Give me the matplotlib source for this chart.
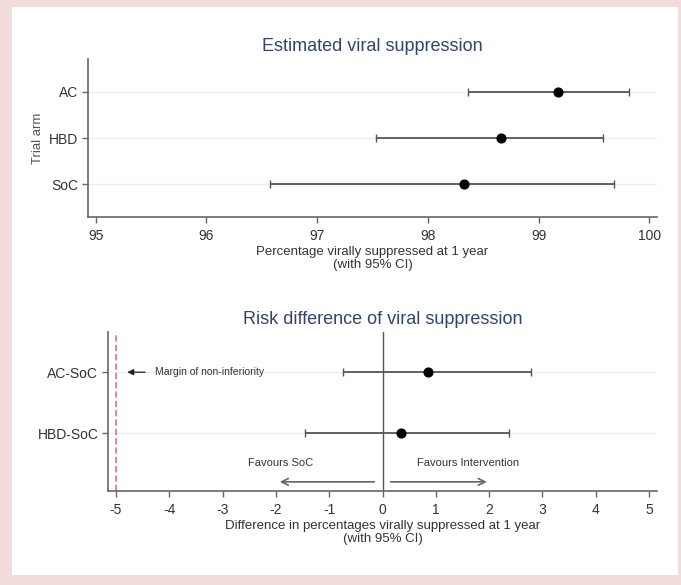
import matplotlib
matplotlib.use("Agg")
import matplotlib.pyplot as plt
from matplotlib.patches import Rectangle

plt.rcParams['font.family'] = ['Liberation Sans Narrow', 'Liberation Sans', 'DejaVu Sans']
plt.rcParams['axes.unicode_minus'] = False

# Estimated viral suppression by trial arm (%, with 95% CI)
arms = ['AC', 'HBD', 'SoC']
est = [99.18, 98.66, 98.33]
est_lo = [98.36, 97.53, 96.57]
est_hi = [99.82, 99.58, 99.68]
top_ticks = [95, 96, 97, 98, 99, 100]

# Risk difference vs SoC (percentage points, with 95% CI)
comparisons = ['AC-SoC', 'HBD-SoC']
diff = [0.85, 0.34]
diff_lo = [-0.74, -1.45]
diff_hi = [2.78, 2.38]
bottom_ticks = [-5, -4, -3, -2, -1, 0, 1, 2, 3, 4, 5]
margin = -5

spine_col = '#666666'
text_col = '#333333'
title_col = '#34436e'
grid_col = '#e8f1f1'
bar_col = '#555555'

fig = plt.figure(figsize=(6.81, 5.85), dpi=100, facecolor='#f1dbdb')
fig.patches.append(Rectangle((12 / 681, 1 - 575 / 585), 666 / 681, 568 / 585,
                             transform=fig.transFigure, facecolor='white',
                             edgecolor='none', zorder=-10))


def style(ax):
    ax.patch.set_alpha(0)
    for s in ['top', 'right']:
        ax.spines[s].set_visible(False)
    for s in ['left', 'bottom']:
        ax.spines[s].set_color(spine_col)
        ax.spines[s].set_linewidth(1.2)
    ax.tick_params(length=4, width=1, color=spine_col, labelcolor=text_col, labelsize=10, pad=3)
    ax.tick_params(axis='x', pad=4.5)
    ax.grid(axis='y', color=grid_col, lw=1)
    ax.set_axisbelow(True)


# ---- top panel
ax1 = fig.add_axes([88 / 681, 1 - 217 / 585, 569 / 681, 158 / 585])
ypos = [3, 2, 1]
ax1.errorbar(est, ypos,
             xerr=[[e - l for e, l in zip(est, est_lo)], [h - e for e, h in zip(est, est_hi)]],
             fmt='o', color='black', ms=6.3, ecolor=bar_col, elinewidth=1.3, capsize=3, capthick=1)
ax1.set_xlim(94.93, 100.07)
ax1.set_ylim(0.29, 3.71)
ax1.set_xticks(top_ticks)
ax1.set_yticks(ypos)
ax1.set_yticklabels(arms)
style(ax1)
ax1.set_title('Estimated viral suppression', color=title_col, fontsize=13, pad=6)
ax1.set_xlabel('Percentage virally suppressed at 1 year\n(with 95% CI)', fontsize=9.5,
               color=text_col, labelpad=2, linespacing=1.2)
ax1.set_ylabel('Trial arm', fontsize=9.5, color='#555555')
ax1.yaxis.set_label_coords(-0.077, 0.5)

# ---- bottom panel
ax2 = fig.add_axes([108 / 681, 1 - 491 / 585, 549 / 681, 159 / 585])
ypos2 = [2, 1]
ax2.errorbar(diff, ypos2,
             xerr=[[d - l for d, l in zip(diff, diff_lo)], [h - d for d, h in zip(diff, diff_hi)]],
             fmt='o', color='black', ms=6.3, ecolor=bar_col, elinewidth=1.3, capsize=3, capthick=1,
             zorder=3)
ax2.axvline(0, color=bar_col, lw=1)
ax2.axvline(margin, color='#e8839b', lw=1.4, ls=(0, (3.2, 1.6)))
ax2.set_xlim(-5.15, 5.15)
ax2.set_ylim(0.05, 2.66)
ax2.set_xticks(bottom_ticks)
ax2.set_yticks(ypos2)
ax2.set_yticklabels(comparisons)
style(ax2)
ax2.set_title('Risk difference of viral suppression', color=title_col, fontsize=13, pad=6)
ax2.set_xlabel('Difference in percentages virally suppressed at 1 year\n(with 95% CI)', fontsize=9.5,
               color=text_col, labelpad=2, linespacing=1.2)

ax2.annotate('', xy=(-4.84, 2), xytext=(-4.4, 2),
             arrowprops=dict(arrowstyle='-|>', color='#222222', lw=0.9, mutation_scale=9))
ax2.text(-4.27, 2, 'Margin of non-inferiority', fontsize=7.5, color=text_col, va='center')

ax2.annotate('', xy=(-1.98, 0.2), xytext=(-0.1, 0.2),
             arrowprops=dict(arrowstyle='->', color='#666666', lw=1.2, mutation_scale=12))
ax2.annotate('', xy=(2.01, 0.2), xytext=(0.1, 0.2),
             arrowprops=dict(arrowstyle='->', color='#666666', lw=1.2, mutation_scale=12))
ax2.text(-1.92, 0.51, 'Favours SoC', fontsize=8, color=text_col, ha='center', va='center')
ax2.text(1.61, 0.51, 'Favours Intervention', fontsize=8, color=text_col, ha='center', va='center')

fig.savefig('out.png', dpi=100, facecolor=fig.get_facecolor())
